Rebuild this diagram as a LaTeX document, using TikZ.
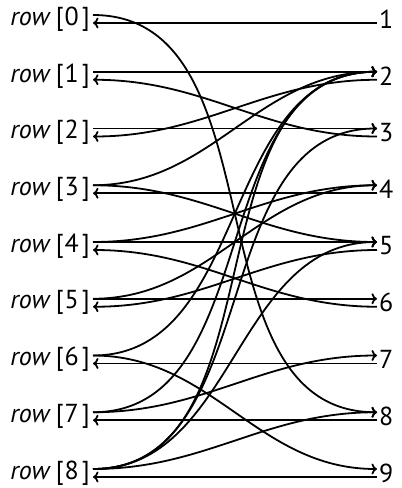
\documentclass[tikz,border=0pt]{standalone}
\usepackage{fontspec}
\setmainfont{PT Sans}
\usetikzlibrary{arrows.meta}

\begin{document}
\begin{tikzpicture}[x=1pt, y=-1pt,
    lbl/.style={font=\fontsize{26}{30}\selectfont, inner ysep=0pt},
    rowlbl/.style={lbl, anchor=east, inner xsep=3pt},
    vallbl/.style={lbl, anchor=west, inner xsep=2pt},
    arr/.style={-{Computer Modern Rightarrow[length=5.5pt,width=11pt]}, line width=1.8pt},
    fwd/.style={arr, out=0, in=180},
    bwd/.style={arr, out=180, in=0}
]
\useasboundingbox (0,0) rectangle (402,488);

% left column
\node[rowlbl] (row0) at (93,19)     {\textit{row}\kern5pt[\kern1pt0\kern3pt]};
\node[rowlbl] (row1) at (93,75.75)  {\textit{row}\kern5pt[\kern1pt1\kern3pt]};
\node[rowlbl] (row2) at (93,132.5)  {\textit{row}\kern5pt[\kern1pt2\kern3pt]};
\node[rowlbl] (row3) at (93,189.25) {\textit{row}\kern5pt[\kern1pt3\kern3pt]};
\node[rowlbl] (row4) at (93,246)    {\textit{row}\kern5pt[\kern1pt4\kern3pt]};
\node[rowlbl] (row5) at (93,302.75) {\textit{row}\kern5pt[\kern1pt5\kern3pt]};
\node[rowlbl] (row6) at (93,359.5)  {\textit{row}\kern5pt[\kern1pt6\kern3pt]};
\node[rowlbl] (row7) at (93,416.25) {\textit{row}\kern5pt[\kern1pt7\kern3pt]};
\node[rowlbl] (row8) at (93,473)    {\textit{row}\kern5pt[\kern1pt8\kern3pt]};

% right column
\node[vallbl] (val1) at (377,19)     {1};
\node[vallbl] (val2) at (377,75.75)  {2};
\node[vallbl] (val3) at (377,132.5)  {3};
\node[vallbl] (val4) at (377,189.25) {4};
\node[vallbl] (val5) at (377,246)    {5};
\node[vallbl] (val6) at (377,302.75) {6};
\node[vallbl] (val7) at (377,359.5)  {7};
\node[vallbl] (val8) at (377,416.25) {8};
\node[vallbl] (val9) at (377,473)    {9};

% row -> value
\draw[fwd] ([yshift=4pt]row0.east) to ([yshift=4pt]val8.west);
\draw[arr] ([yshift=4pt]row1.east) -- ([yshift=4pt]val2.west);
\draw[arr] ([yshift=4pt]row2.east) -- ([yshift=4pt]val3.west);
\draw[fwd] ([yshift=4pt]row3.east) to ([yshift=4pt]val2.west);
\draw[fwd] ([yshift=4pt]row3.east) to ([yshift=4pt]val5.west);
\draw[arr] ([yshift=4pt]row4.east) -- ([yshift=4pt]val5.west);
\draw[fwd] ([yshift=4pt]row4.east) to ([yshift=4pt]val4.west);
\draw[arr] ([yshift=4pt]row5.east) -- ([yshift=4pt]val6.west);
\draw[fwd] ([yshift=4pt]row5.east) to ([yshift=4pt]val4.west);
\draw[fwd] ([yshift=4pt]row6.east) to ([yshift=4pt]val2.west);
\draw[fwd] ([yshift=4pt]row6.east) to ([yshift=4pt]val9.west);
\draw[fwd] ([yshift=4pt]row7.east) to ([yshift=4pt]val2.west);
\draw[fwd] ([yshift=4pt]row7.east) to ([yshift=4pt]val7.west);
\draw[fwd] ([yshift=4pt]row8.east) to ([yshift=4pt]val2.west);
\draw[fwd] ([yshift=4pt]row8.east) to ([yshift=4pt]val3.west);
\draw[fwd] ([yshift=4pt]row8.east) to ([yshift=4pt]val5.west);
\draw[fwd] ([yshift=4pt]row8.east) to ([yshift=4pt]val8.west);

% value -> row
\draw[arr] ([yshift=-4pt]val1.west) -- ([yshift=-4pt]row0.east);
\draw[bwd] ([yshift=-4pt]val3.west) to ([yshift=-4pt]row1.east);
\draw[bwd] ([yshift=-4pt]val2.west) to ([yshift=-4pt]row2.east);
\draw[arr] ([yshift=-4pt]val4.west) -- ([yshift=-4pt]row3.east);
\draw[bwd] ([yshift=-4pt]val6.west) to ([yshift=-4pt]row4.east);
\draw[bwd] ([yshift=-4pt]val5.west) to ([yshift=-4pt]row5.east);
\draw[arr] ([yshift=-4pt]val7.west) -- ([yshift=-4pt]row6.east);
\draw[arr] ([yshift=-4pt]val8.west) -- ([yshift=-4pt]row7.east);
\draw[arr] ([yshift=-4pt]val9.west) -- ([yshift=-4pt]row8.east);
\end{tikzpicture}
\end{document}
